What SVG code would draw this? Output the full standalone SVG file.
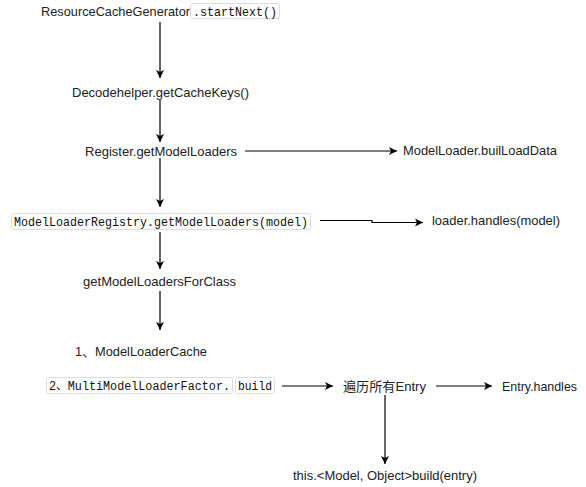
<svg xmlns="http://www.w3.org/2000/svg" width="586" height="487" viewBox="0 0 586 487">
<style>
.t{font-family:"Liberation Sans","Noto Sans CJK SC",Arial,sans-serif;font-size:13px;fill:#222}
.m{font-family:"Liberation Mono","Noto Sans CJK SC",monospace;font-size:13px;fill:#111}
.s{font-size:12px}
.b{fill:#fff;stroke:#ddd;stroke-width:1}
.c{fill:none;stroke:#000;stroke-width:1.2;marker-end:url(#ah)}
</style>
<defs>
<marker id="ah" markerUnits="userSpaceOnUse" markerWidth="10" markerHeight="10" refX="8" refY="4" orient="auto" viewBox="0 0 10 8">
<path d="M0,0 L8,4 L0,8 L2,4 Z" fill="#000"/>
</marker>
</defs>
<rect width="586" height="487" fill="#fff"/>
<g id="connectors">
<path class="c" d="M160,22 V78"/>
<path class="c" d="M160,100 V142"/>
<path class="c" d="M245,151 H397"/>
<path class="c" d="M160,158 V207"/>
<path class="c" d="M320,220.5 H372 V222.5 H423"/>
<path class="c" d="M160,232 V269"/>
<path class="c" d="M160,291 V330"/>
<path class="c" d="M282,386 H333"/>
<path class="c" d="M436,386 H492"/>
<path class="c" d="M385,395 V464"/>
</g>
<g id="n1">
<text class="t" x="41" y="15.5" textLength="149" lengthAdjust="spacingAndGlyphs">ResourceCacheGenerator</text>
<rect class="b" x="190.5" y="3.5" width="89" height="15" rx="2"/>
<text class="m" x="193" y="15.5" textLength="84" lengthAdjust="spacingAndGlyphs">.startNext()</text>
</g>
<g id="n2"><text class="t" x="72" y="96.5" textLength="177" lengthAdjust="spacingAndGlyphs">Decodehelper.getCacheKeys()</text></g>
<g id="n3"><text class="t" x="85" y="155.5" textLength="152" lengthAdjust="spacingAndGlyphs">Register.getModelLoaders</text></g>
<g id="n4"><text class="t" x="403" y="154.5" textLength="154" lengthAdjust="spacingAndGlyphs">ModelLoader.builLoadData</text></g>
<g id="n5">
<rect class="b" x="11.5" y="213.5" width="299" height="16" rx="2"/>
<text class="m" x="14" y="226" textLength="294" lengthAdjust="spacingAndGlyphs">ModelLoaderRegistry.getModelLoaders(model)</text>
</g>
<g id="n6"><text class="t" x="432" y="224.5" textLength="128" lengthAdjust="spacingAndGlyphs">loader.handles(model)</text></g>
<g id="n7"><text class="t" x="83" y="285.5" textLength="153" lengthAdjust="spacingAndGlyphs">getModelLoadersForClass</text></g>
<g id="n8"><text class="t" x="75" y="355.5" textLength="132" lengthAdjust="spacingAndGlyphs">1、ModelLoaderCache</text></g>
<g id="n9">
<rect class="b" x="46.5" y="377.5" width="186" height="16" rx="2"/>
<text class="m s" x="49" y="390" textLength="181" lengthAdjust="spacingAndGlyphs">2、MultiModelLoaderFactor.</text>
<rect class="b" x="235.5" y="377.5" width="39" height="16" rx="2"/>
<text class="m s" x="238" y="390" textLength="34" lengthAdjust="spacingAndGlyphs">build</text>
</g>
<g id="n10"><text class="t" x="343" y="390.5" textLength="83" lengthAdjust="spacingAndGlyphs">遍历所有Entry</text></g>
<g id="n11"><text class="t" x="502" y="390.5" textLength="75" lengthAdjust="spacingAndGlyphs">Entry.handles</text></g>
<g id="n12"><text class="t" x="293" y="479.5" textLength="184" lengthAdjust="spacingAndGlyphs">this.&lt;Model, Object&gt;build(entry)</text></g>
</svg>
